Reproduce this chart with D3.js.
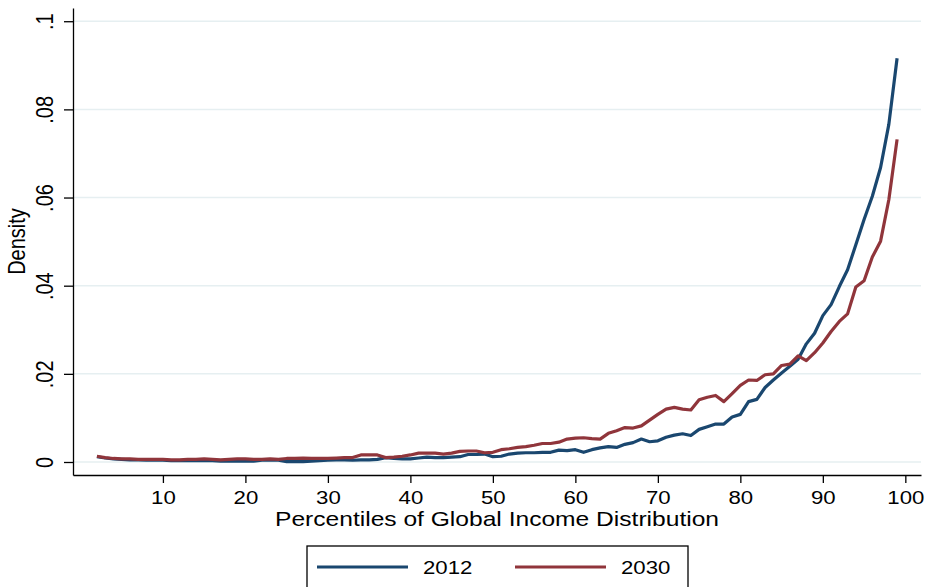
<!DOCTYPE html>
<html>

<head>
    <meta charset="utf-8">
    <title>Density by global income percentile</title>
    <script src="https://d3js.org/d3.v7.min.js"></script>
    <style>
        html,
        body {
            margin: 0;
            padding: 0;
            background: #fff;
        }

        text {
            font-family: 'Liberation Sans', Arial, Helvetica, sans-serif;
            fill: #000;
        }
    </style>
</head>

<body>
    <div id="chart"></div>

    <script>
        // percentiles 2..99
        const percentiles = d3.range(2, 100);

        const density2012 = [
            0.0012, 0.0009, 0.0007, 0.0006, 0.0005, 0.0005, 0.0004, 0.0004, 0.0004, 0.0003,
            0.0003, 0.0003, 0.0003, 0.0003, 0.0003, 0.0002, 0.0002, 0.0002, 0.0002, 0.0002,
            0.0004, 0.0005, 0.0004, 0.0001, 0.0001, 0.0001, 0.0002, 0.0003, 0.0004, 0.0005,
            0.0005, 0.0004, 0.0005, 0.0005, 0.0006, 0.0010, 0.0008, 0.0007, 0.0007, 0.0009,
            0.0011, 0.0010, 0.0010, 0.0011, 0.0012, 0.0017, 0.0017, 0.0018, 0.0012, 0.0013,
            0.0018, 0.0020, 0.0021, 0.0021, 0.0022, 0.0022, 0.0027, 0.0026, 0.0028, 0.0022,
            0.0028, 0.0032, 0.0035, 0.0033, 0.0040, 0.0044, 0.0052, 0.0046, 0.0048, 0.0056,
            0.0061, 0.0064, 0.0060, 0.0074, 0.0080, 0.0086, 0.0086, 0.0102, 0.0108, 0.0137,
            0.0142, 0.0169, 0.0186, 0.0202, 0.0217, 0.0233, 0.0268, 0.0292, 0.0332, 0.0357,
            0.0398, 0.0436, 0.0493, 0.0550, 0.0603, 0.0668, 0.0766, 0.0916
        ];

        const density2030 = [
            0.0013, 0.0010, 0.0008, 0.0007, 0.0007, 0.0006, 0.0006, 0.0006, 0.0006, 0.0005,
            0.0005, 0.0006, 0.0006, 0.0007, 0.0006, 0.0005, 0.0006, 0.0007, 0.0007, 0.0006,
            0.0006, 0.0007, 0.0006, 0.0008, 0.0008, 0.0009, 0.0008, 0.0008, 0.0008, 0.0009,
            0.0010, 0.0010, 0.0016, 0.0016, 0.0016, 0.0010, 0.0011, 0.0013, 0.0016, 0.0020,
            0.0020, 0.0020, 0.0018, 0.0020, 0.0024, 0.0025, 0.0025, 0.0021, 0.0022, 0.0028,
            0.0030, 0.0033, 0.0035, 0.0038, 0.0042, 0.0042, 0.0045, 0.0052, 0.0054, 0.0055,
            0.0053, 0.0052, 0.0065, 0.0071, 0.0078, 0.0077, 0.0082, 0.0095, 0.0108, 0.0120,
            0.0124, 0.0120, 0.0118, 0.0141, 0.0147, 0.0151, 0.0137, 0.0155, 0.0174, 0.0186,
            0.0185, 0.0198, 0.0200, 0.0219, 0.0222, 0.0241, 0.0230, 0.0248, 0.0270, 0.0296,
            0.0319, 0.0336, 0.0397, 0.0411, 0.0465, 0.0501, 0.0595, 0.0732
        ];

        const xTicks = [10, 20, 30, 40, 50, 60, 70, 80, 90, 100];
        const yTicks = [0, 0.02, 0.04, 0.06, 0.08, 0.1];
        const yTickLabels = ["0", ".02", ".04", ".06", ".08", ".1"];

        const seriesNames = ["2012", "2030"];
        const seriesColors = ["#1a476f", "#90353b"];

        // the picture is slightly wider than tall, text looks stretched
        const stretch = 1.2;

        const W = 932, H = 587;
        var margin = { top: 8, right: 11, bottom: 112, left: 73 },
            width = W - margin.left - margin.right,
            height = H - margin.top - margin.bottom;

        var svg = d3.select("#chart")
            .append("svg")
            .attr("width", W)
            .attr("height", H)
            .style("display", "block");

        var g = svg.append("g")
            .attr("transform", `translate(${margin.left},${margin.top})`);

        var x = d3.scaleLinear()
            .domain([-0.9, 101.9])
            .range([0, width]);

        var y = d3.scaleLinear()
            .domain([-0.00295, 0.103])
            .range([height, 0]);

        // gridlines
        g.append("g")
            .selectAll("line")
            .data(yTicks)
            .enter()
            .append("line")
            .attr("x1", 0)
            .attr("x2", width)
            .attr("y1", d => y(d))
            .attr("y2", d => y(d))
            .attr("stroke", "#e6eff1")
            .attr("stroke-width", 1.5);

        // Y axis
        const yAxis = g.append("g")
            .call(d3.axisLeft(y)
                .tickValues(yTicks)
                .tickFormat((d, i) => yTickLabels[i])
                .tickSize(9)
                .tickSizeOuter(0));

        yAxis.selectAll("text")
            .attr("x", null)
            .attr("dy", null)
            .attr("text-anchor", "middle")
            .attr("transform", `translate(-20,0) scale(${stretch},1) rotate(-90)`)
            .style("font-size", "20px");

        // X axis
        const xAxis = g.append("g")
            .attr("transform", `translate(0,${height})`)
            .call(d3.axisBottom(x)
                .tickValues(xTicks)
                .tickSize(8)
                .tickSizeOuter(0));

        xAxis.selectAll("text")
            .attr("y", 16)
            .attr("transform", `scale(${stretch},1)`)
            .style("font-size", "18.5px");

        g.selectAll(".domain, .tick line")
            .attr("stroke", "#000")
            .attr("stroke-width", 1.3);

        // axis titles
        svg.append("text")
            .attr("text-anchor", "middle")
            .attr("transform", `translate(${margin.left + width / 2},526) scale(${stretch},1)`)
            .style("font-size", "20.5px")
            .text("Percentiles of Global Income Distribution");

        svg.append("text")
            .attr("text-anchor", "middle")
            .attr("transform", `translate(25,${margin.top + height / 2}) scale(${stretch},1) rotate(-90)`)
            .style("font-size", "20px")
            .text("Density");

        // lines
        const series = [density2012, density2030];
        const line = d3.line()
            .x((d, i) => x(percentiles[i]))
            .y(d => y(d));

        series.forEach((vals, k) => {
            g.append("path")
                .datum(vals)
                .attr("fill", "none")
                .attr("stroke", seriesColors[k])
                .attr("stroke-width", 3.2)
                .attr("stroke-linejoin", "round")
                .attr("d", line);
        });

        // legend
        const legend = svg.append("g")
            .attr("transform", "translate(307,546)");

        legend.append("rect")
            .attr("x", 0)
            .attr("y", 0)
            .attr("width", 381)
            .attr("height", 60)
            .attr("fill", "#fff")
            .attr("stroke", "#000")
            .attr("stroke-width", 1.3);

        seriesNames.forEach((name, i) => {
            const entry = legend.append("g")
                .attr("transform", `translate(${10 + i * 198},21)`);

            entry.append("line")
                .attr("x1", 0)
                .attr("x2", 91)
                .attr("y1", 0)
                .attr("y2", 0)
                .attr("stroke", seriesColors[i])
                .attr("stroke-width", 3);

            entry.append("text")
                .attr("transform", `translate(106,7) scale(${stretch},1)`)
                .style("font-size", "18.5px")
                .text(name);
        });
    </script>
</body>

</html>
